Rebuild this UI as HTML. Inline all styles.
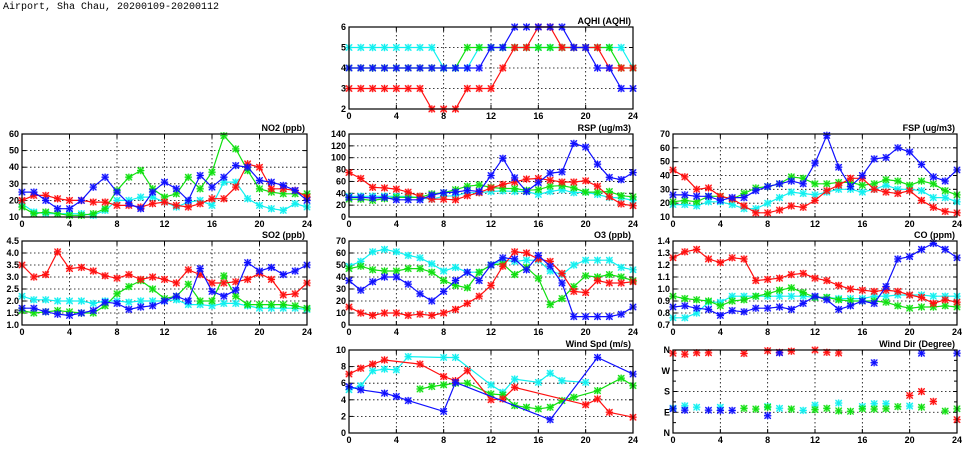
<!DOCTYPE html>
<html><head><meta charset="utf-8">
<style>
html,body{margin:0;padding:0;background:#fff;}
svg text{font-family:"Liberation Sans",sans-serif;font-weight:bold;font-size:9px;fill:#000;}
</style></head>
<body>
<svg id="chart" width="975" height="447" viewBox="0 0 975 447" xmlns="http://www.w3.org/2000/svg">
<text x="3" y="9" style="font-family:'Liberation Mono',monospace;font-size:10px;font-weight:normal">Airport, Sha Chau, 20200109-20200112</text>
</svg>
<script>
const hours = [0,1,2,3,4,5,6,7,8,9,10,11,12,13,14,15,16,17,18,19,20,21,22,23,24];
const seriesNames = ['cyan','green','red','blue'];
const xTicks = [0,4,8,12,16,20,24];
const N = null;

const aqhiRed   = [3,3,3,3,3,3,3,2,2,2,3,3,3,4,5,5,6,6,5,5,5,5,4,4,4];
const aqhiGreen = [4,4,4,4,4,4,4,4,4,4,5,5,5,5,5,5,5,5,5,5,5,5,5,4,4];
const aqhiBlue  = [4,4,4,4,4,4,4,4,4,4,4,4,5,5,6,6,6,6,6,5,5,4,4,3,3];
const aqhiCyan  = [5,5,5,5,5,5,5,5,4,4,4,5,5,5,5,5,5,5,5,5,5,5,5,5,4];

const no2Blue  = [25,25,20,15,15,20,28,34,25,18,15,25,31,27,20,35,28,34,41,40,32,31,29,26,20];
const no2Green = [16,12,13,12,11,11,12,15,26,34,38,27,22,24,34,27,37,59,51,38,27,25,24,24,24];
const no2Red   = [20,23,23,21,20,20,19,19,17,17,16,18,19,17,16,18,21,21,28,42,40,27,27,26,22];
const no2Cyan  = [18,13,12,12,12,12,11,14,20,20,22,22,19,16,19,20,17,31,31,21,17,15,14,18,16];

const so2Red   = [3.5,3.0,3.1,4.05,3.35,3.4,3.25,3.05,2.95,3.1,2.9,3.0,2.9,2.75,3.3,3.1,2.75,2.75,2.8,2.9,3.15,2.9,2.25,2.3,2.75];
const so2Green = [1.6,1.5,1.55,1.6,1.55,1.5,1.5,1.8,2.3,2.6,2.85,2.5,2.1,2.2,2.7,2.0,2.0,3.05,2.2,1.85,1.85,1.85,1.85,1.8,1.7];
const so2Blue  = [1.7,1.7,1.55,1.45,1.4,1.5,1.6,1.95,1.9,1.65,1.75,1.8,2.0,2.2,2.0,3.35,2.4,2.2,2.45,3.6,3.25,3.4,3.1,3.25,3.5];
const so2Cyan  = [2.2,2.05,2.05,2.0,2.0,2.0,1.9,2.0,2.0,1.95,2.0,2.0,2.0,2.05,1.85,1.85,1.8,1.9,1.9,1.8,1.7,1.7,1.7,1.7,1.65];

const rspBlue  = [33,33,32,33,29,29,29,37,41,42,45,43,70,99,66,43,58,74,76,124,118,89,67,63,75];
const rspRed   = [75,65,50,49,47,42,35,30,30,29,36,41,49,55,59,64,65,62,59,59,61,52,34,22,19];
const rspGreen = [30,30,28,31,33,33,33,39,41,46,52,54,50,48,48,45,46,52,53,49,42,42,43,36,34];
const rspCyan  = [35,35,35,35,35,35,32,30,35,36,41,41,43,44,43,43,38,43,46,41,42,38,33,32,28];

const fspBlue  = [26,26,25,25,22,24,24,29,32,34,36,34,49,69,46,32,40,52,53,60,57,48,39,36,44];
const fspGreen = [21,22,21,25,25,23,27,31,32,34,39,38,34,34,35,35,33,34,37,36,33,36,34,29,26];
const fspRed   = [44,39,30,31,25,23,18,13,13,15,18,17,22,29,33,38,38,30,28,27,29,22,17,14,13];
const fspCyan  = [19,19,18,21,21,19,16,16,20,24,28,27,26,28,30,30,28,30,33,30,30,29,24,24,21];

const o3Cyan  = [49,53,61,63,61,58,56,51,45,48,44,44,50,54,53,54,54,45,42,50,54,54,54,48,46];
const o3Green = [47,49,46,45,45,47,47,44,37,33,31,44,50,51,42,48,39,17,22,32,41,40,42,40,37];
const o3Blue  = [37,29,36,40,40,34,26,20,28,37,44,37,50,56,55,46,58,49,35,7,7,7,7,9,15];
const o3Red   = [15,10,8,10,10,8,9,8,10,13,18,24,33,49,61,60,55,53,43,28,27,37,35,35,36];

const coRed   = [1.26,1.31,1.33,1.25,1.22,1.26,1.25,1.07,1.08,1.09,1.12,1.13,1.09,1.07,1.03,1.0,0.99,0.98,0.99,0.98,0.95,0.93,0.88,0.91,0.89];
const coGreen = [0.94,0.92,0.91,0.90,0.86,0.90,0.91,0.94,0.96,0.99,1.01,0.97,0.93,0.93,0.91,0.90,0.90,0.90,0.89,0.86,0.84,0.85,0.85,0.86,0.85];
const coBlue  = [0.85,0.86,0.84,0.83,0.78,0.82,0.81,0.84,0.84,0.85,0.83,0.88,0.94,0.91,0.83,0.86,0.90,0.88,1.02,1.25,1.27,1.33,1.38,1.33,1.26];
const coCyan  = [0.76,0.76,0.80,0.89,0.89,0.94,0.94,0.94,0.94,0.94,0.94,0.94,0.93,0.93,0.92,0.92,0.92,0.94,0.94,0.95,0.95,0.95,0.94,0.94,0.94];

const wsRed   = [7.1,7.8,8.3,8.8,N,N,8.3,N,6.8,6.3,7.5,N,4.0,4.1,5.5,N,N,N,N,N,3.4,4.1,2.5,N,1.9];
const wsCyan  = [5.2,5.7,7.5,7.7,7.6,9.2,N,N,9.1,9.1,N,N,5.8,4.9,6.5,N,6.1,7.2,6.3,N,6.1,N,N,N,N];
const wsGreen = [N,N,N,N,N,N,5.3,5.6,5.8,6.0,6.0,N,4.7,4.6,3.3,3.1,2.9,3.1,3.9,4.3,N,5.1,N,6.6,5.7];
const wsBlue  = [5.6,5.2,N,4.8,4.4,3.9,N,N,2.6,6.1,N,N,N,N,N,N,N,1.6,N,N,N,9.1,N,N,7.1];

const wdRed   = [346,342,348,348,N,N,345,N,357,350,355,N,360,350,347,N,N,N,N,N,163,180,137,N,58];
const wdBlue  = [105,99,N,99,98,98,N,N,75,348,N,N,N,N,N,N,N,305,N,N,N,346,N,N,346];
const wdCyan  = [108,118,112,N,112,N,N,N,115,107,N,98,121,N,130,N,115,127,127,N,117,N,N,N,N];
const wdGreen = [N,N,N,N,N,N,107,104,112,N,104,N,101,107,96,94,105,104,105,114,N,112,N,95,105];

const colors = {red:'#ff1010',green:'#10e010',blue:'#1010ff',cyan:'#10f0f0'};

const svg = document.getElementById('chart');
const NS = 'http://www.w3.org/2000/svg';
function mk(tag, attrs, parent){
  const e = document.createElementNS(NS, tag);
  for (const k in attrs) e.setAttribute(k, attrs[k]);
  (parent||svg).appendChild(e);
  return e;
}

const panels = [
 {id:'aqhi', title:'AQHI (AQHI)', x0:349,x1:633,top:27,bot:109,min:2,max:6,ticks:[2,3,4,5,6],labels:null,
  data:{cyan:aqhiCyan,green:aqhiGreen,red:aqhiRed,blue:aqhiBlue}},
 {id:'no2', title:'NO2 (ppb)', x0:22,x1:307,top:134,bot:217,min:10,max:60,ticks:[10,20,30,40,50,60],
  data:{cyan:no2Cyan,green:no2Green,red:no2Red,blue:no2Blue}},
 {id:'rsp', title:'RSP (ug/m3)', x0:349,x1:633,top:134,bot:217,min:0,max:140,ticks:[0,20,40,60,80,100,120,140],
  data:{cyan:rspCyan,green:rspGreen,red:rspRed,blue:rspBlue}},
 {id:'fsp', title:'FSP (ug/m3)', x0:673,x1:957,top:134,bot:217,min:10,max:70,ticks:[10,20,30,40,50,60,70],
  data:{cyan:fspCyan,green:fspGreen,red:fspRed,blue:fspBlue}},
 {id:'so2', title:'SO2 (ppb)', x0:22,x1:307,top:241,bot:325,min:1,max:4.5,ticks:[1,1.5,2,2.5,3,3.5,4,4.5],fmt:1,
  data:{cyan:so2Cyan,green:so2Green,red:so2Red,blue:so2Blue}},
 {id:'o3', title:'O3 (ppb)', x0:349,x1:633,top:241,bot:325,min:0,max:70,ticks:[0,10,20,30,40,50,60,70],
  data:{cyan:o3Cyan,green:o3Green,red:o3Red,blue:o3Blue}},
 {id:'co', title:'CO (ppm)', x0:673,x1:957,top:241,bot:325,min:0.7,max:1.4,ticks:[0.7,0.8,0.9,1.0,1.1,1.2,1.3,1.4],fmt:1,
  data:{cyan:coCyan,green:coGreen,red:coRed,blue:coBlue}},
 {id:'wind-spd', title:'Wind Spd (m/s)', x0:349,x1:633,top:350,bot:433,min:0,max:10,ticks:[0,2,4,6,8,10],
  data:{cyan:wsCyan,green:wsGreen,red:wsRed,blue:wsBlue}},
 {id:'wind-dir', title:'Wind Dir (Degree)', x0:673,x1:957,top:350,bot:433,min:0,max:360,ticks:[0,90,180,270,360],
  tlabels:['N','E','S','W','N'],minor:[45,135,225,315],noLine:true,gridSkip:[0,360],
  data:{cyan:wdCyan,green:wdGreen,red:wdRed,blue:wdBlue}}
];

function marker(g, x, y, c){
  const s = 3.2;
  mk('rect',{x:x-s,y:y-s,width:2*s,height:2*s,fill:c,'fill-opacity':0.35,stroke:'none'},g);
  mk('path',{d:`M${x-s} ${y-s}L${x+s} ${y+s}M${x-s} ${y+s}L${x+s} ${y-s}M${x} ${y-s-0.5}L${x} ${y+s+0.5}M${x-s-0.5} ${y}L${x+s+0.5} ${y}`,stroke:c,'stroke-width':1.1,fill:'none'},g);
}

panels.forEach(p=>{
  const g = mk('g',{});
  
  
  const xs = h => p.x0 + (p.x1-p.x0)*h/24;
  const ys = v => p.bot - (p.bot-p.top)*(v-p.min)/(p.max-p.min);
  // grid
  xTicks.forEach(t=>{
    if (t===0||t===24) return;
    const gl = mk('line',{x1:xs(t),x2:xs(t),y1:p.top,y2:p.bot,stroke:'#000','stroke-width':0.8,'stroke-dasharray':'1.5,2.5'},g);
    
    
  });
  p.ticks.forEach(t=>{
    if (t===p.min||t===p.max) return;
    const gl = mk('line',{x1:p.x0,x2:p.x1,y1:ys(t),y2:ys(t),stroke:'#000','stroke-width':0.8,'stroke-dasharray':'1.5,2.5'},g);
    
    
  });
  // ticks
  xTicks.forEach(t=>{
    mk('line',{x1:xs(t),x2:xs(t),y1:p.bot,y2:p.bot-4,stroke:'#000','stroke-width':1},g);
    mk('line',{x1:xs(t),x2:xs(t),y1:p.top,y2:p.top+4,stroke:'#000','stroke-width':1},g);
    const tl = mk('text',{x:xs(t),y:p.bot+10,'text-anchor':'middle'},g);
    tl.textContent = t;
    
    
  });
  p.ticks.forEach((t,i)=>{
    mk('line',{x1:p.x0,x2:p.x0+4,y1:ys(t),y2:ys(t),stroke:'#000','stroke-width':1},g);
    mk('line',{x1:p.x1,x2:p.x1-4,y1:ys(t),y2:ys(t),stroke:'#000','stroke-width':1},g);
    const tl = mk('text',{x:p.x0-3,y:ys(t)+3,'text-anchor':'end'},g);
    tl.textContent = p.tlabels ? p.tlabels[i] : (p.fmt ? t.toFixed(p.fmt) : t);
    
    
  });
  (p.minor||[]).forEach(t=>{
    mk('line',{x1:p.x0,x2:p.x0+3,y1:ys(t),y2:ys(t),stroke:'#000','stroke-width':1},g);
    mk('line',{x1:p.x1,x2:p.x1-3,y1:ys(t),y2:ys(t),stroke:'#000','stroke-width':1},g);
  });
  // series
  seriesNames.forEach(sn=>{
    const arr = p.data[sn];
    const c = colors[sn];
    const sg = mk('g',{},g);
    
    
    if (!p.noLine){
      let d=''; 
      hours.forEach((h,i)=>{ const v=arr[i]; if(v===null) return; d += (d?'L':'M')+xs(h).toFixed(1)+' '+ys(v).toFixed(1); });
      mk('path',{d:d,fill:'none',stroke:c,'stroke-width':1.2},sg);
    }
    hours.forEach((h,i)=>{ const v=arr[i]; if(v===null) return; marker(sg, xs(h), ys(v), c); });
  });
  // frame
  const fr = mk('rect',{x:p.x0,y:p.top,width:p.x1-p.x0,height:p.bot-p.top,fill:'none',stroke:'#000','stroke-width':1.2},g);
  
  
  const tt = mk('text',{x:p.x1-2,y:p.top-3,'text-anchor':'end'},g);
  tt.textContent = p.title;
  
  
});
</script>
</body></html>
